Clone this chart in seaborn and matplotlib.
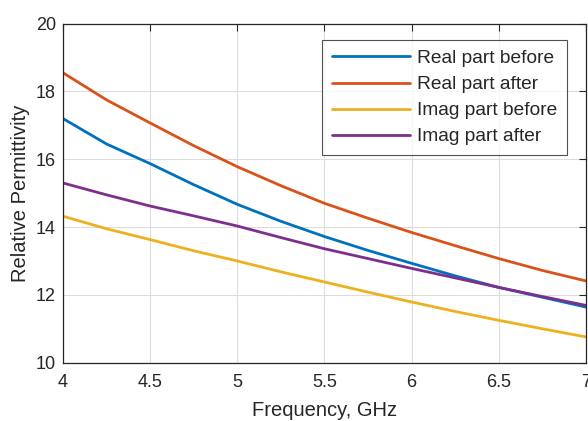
import matplotlib
matplotlib.use("Agg")
import matplotlib.pyplot as plt
import seaborn as sns
import pandas as pd

freq = [4.0, 4.25, 4.5, 4.75, 5.0, 5.25, 5.5, 5.75, 6.0, 6.25, 6.5, 6.75, 7.0]
real_before = [17.2, 16.45, 15.87, 15.25, 14.67, 14.17, 13.72, 13.31, 12.93, 12.56, 12.22, 11.93, 11.64]
real_after = [18.55, 17.75, 17.07, 16.4, 15.78, 15.22, 14.7, 14.26, 13.84, 13.45, 13.07, 12.72, 12.41]
imag_before = [14.32, 13.95, 13.63, 13.3, 13.0, 12.68, 12.38, 12.08, 11.79, 11.51, 11.25, 11.0, 10.76]
imag_after = [15.3, 14.95, 14.62, 14.33, 14.03, 13.69, 13.36, 13.07, 12.78, 12.5, 12.22, 11.95, 11.69]

labels = ["Real part before", "Real part after", "Imag part before", "Imag part after"]
colors = ["#0072BD", "#D95319", "#EDB120", "#7E2F8E"]

series = [real_before, real_after, imag_before, imag_after]
df = pd.concat([pd.DataFrame({"Frequency": freq, "value": s, "series": lab})
                for s, lab in zip(series, labels)], ignore_index=True)

sns.set_style("white")
plt.rcParams['font.family'] = ['Liberation Sans', 'DejaVu Sans']

fig = plt.figure(figsize=(5.88, 4.21), dpi=100)
ax = fig.add_axes([0.107, 0.1385, 0.8896, 0.8055])

sns.lineplot(data=df, x="Frequency", y="value", hue="series", hue_order=labels,
             palette=colors, linewidth=2, ax=ax, sort=False)

ax.set_xlim(4, 7)
ax.set_ylim(10, 20)
ax.set_xticks([4, 4.5, 5, 5.5, 6, 6.5, 7])
ax.set_xticklabels(["4", "4.5", "5", "5.5", "6", "6.5", "7"])
ax.set_yticks([10, 12, 14, 16, 18, 20])
ax.grid(True, color="#dcdcdc", linewidth=0.8)
for sp in ax.spines.values():
    sp.set_color("#262626")
    sp.set_linewidth(0.9)
ax.tick_params(direction="in", length=5, width=0.8, colors="#262626", labelsize=13,
               top=True, right=True, pad=5)
ax.tick_params(axis="x", pad=8.5)
ax.set_xlabel("Frequency, GHz", fontsize=14.5, color="#262626", labelpad=6.5)
ax.set_ylabel("Relative Permittivity", fontsize=14.5, color="#262626", labelpad=4)

leg = ax.legend(loc="upper right", bbox_to_anchor=(0.9637, 0.951), fontsize=13.8,
                frameon=True, fancybox=False, handlelength=4.1, handletextpad=0.37,
                borderpad=0.5, labelspacing=0.45, borderaxespad=0)
leg.get_frame().set_edgecolor("#262626")
leg.get_frame().set_linewidth(0.8)
for line in leg.get_lines():
    line.set_linewidth(2)

fig.savefig("out.png", dpi=100)
